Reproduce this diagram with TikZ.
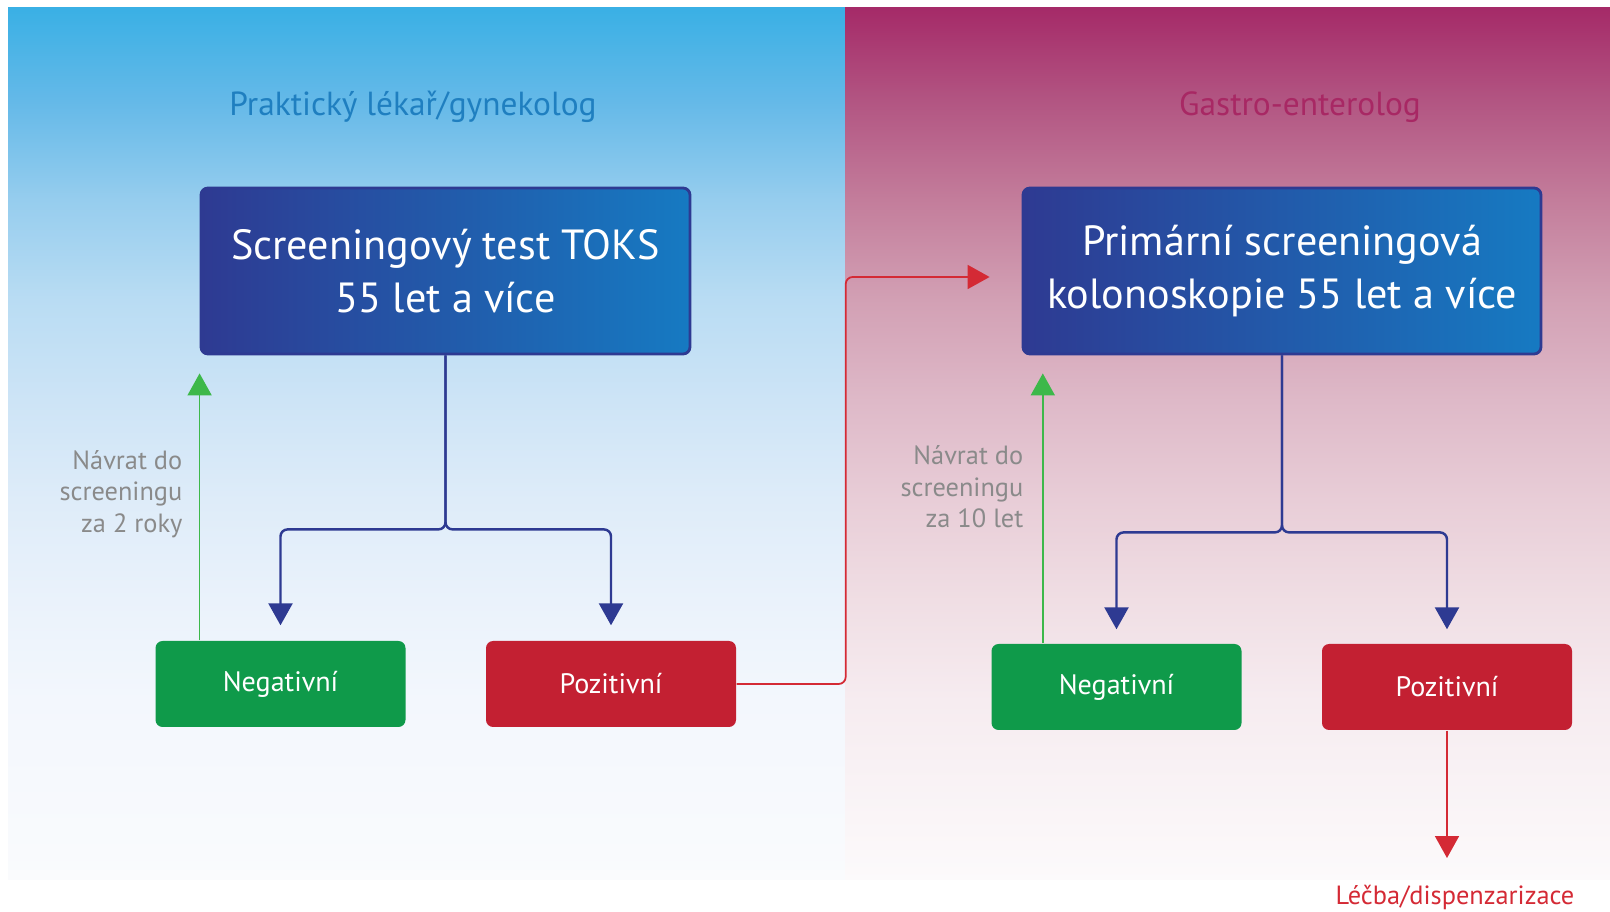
\documentclass[tikz,border=0pt]{standalone}
\usepackage{fontspec}
\setmainfont{PT Sans}
\usetikzlibrary{arrows.meta, positioning, calc}
\definecolor{navy_blue}{RGB}{46, 58, 146}
\definecolor{ocean_blue}{RGB}{22, 122, 194}
\definecolor{title_blue}{RGB}{31, 127, 192}
\definecolor{title_plum}{RGB}{168, 40, 100}
\definecolor{result_green}{RGB}{15, 154, 74}
\definecolor{result_red}{RGB}{195, 32, 50}
\definecolor{arrow_green}{RGB}{61, 184, 74}
\definecolor{arrow_red}{RGB}{212, 42, 53}
\definecolor{note_gray}{RGB}{138, 138, 138}
% panel fades, top colour at 75bp
\pgfdeclareverticalshading{gp_fade}{100bp}{
    rgb(0bp)=(0.980,0.984,0.992); rgb(25bp)=(0.980,0.984,0.992);
    rgb(35.3bp)=(0.953,0.969,0.992); rgb(41bp)=(0.918,0.949,0.984);
    rgb(46.8bp)=(0.871,0.925,0.976); rgb(52.5bp)=(0.804,0.894,0.965);
    rgb(58.3bp)=(0.725,0.863,0.953); rgb(64bp)=(0.588,0.804,0.933);
    rgb(69.7bp)=(0.392,0.725,0.910); rgb(75bp)=(0.227,0.690,0.898);
    rgb(100bp)=(0.227,0.690,0.898)}
\pgfdeclareverticalshading{ge_fade}{100bp}{
    rgb(0bp)=(0.988,0.980,0.984); rgb(25bp)=(0.988,0.980,0.984);
    rgb(35.3bp)=(0.965,0.925,0.941); rgb(41bp)=(0.941,0.871,0.894);
    rgb(46.8bp)=(0.910,0.804,0.843); rgb(52.5bp)=(0.871,0.725,0.784);
    rgb(58.3bp)=(0.824,0.627,0.706); rgb(64bp)=(0.765,0.490,0.608);
    rgb(69.7bp)=(0.698,0.333,0.510); rgb(75bp)=(0.647,0.165,0.408);
    rgb(100bp)=(0.647,0.165,0.408)}

\begin{document}
\begin{tikzpicture}[
    stage/.style={
        rectangle,
        draw=navy_blue,
        left color=navy_blue,
        right color=ocean_blue,
        line width=0.8pt,
        rounded corners=2pt,
        minimum width=#1,
        minimum height=1.66cm,
        text=white,
        font=\fontsize{12}{15}\selectfont,
        align=center
    },
    result/.style={
        rectangle,
        fill=#1,
        minimum width=2.5cm,
        minimum height=0.86cm,
        rounded corners=2pt,
        text=white,
        font=\fontsize{8}{10}\selectfont
    },
    heading/.style={
        text=#1,
        font=\fontsize{9.5}{12}\selectfont
    },
    note/.style={
        text=note_gray,
        align=right,
        anchor=east,
        inner sep=0pt,
        font=\fontsize{7.5}{9}\selectfont
    },
    flow/.style={
        -{Triangle[length=2.2mm,width=2.4mm]},
        line width=0.7pt,
        rounded corners=2pt,
        #1
    },
    back_flow/.style={
        -{Triangle[length=2.2mm,width=2.4mm]},
        line width=0.5pt,
        rounded corners=2pt,
        #1
    },
]
\useasboundingbox (0,0) rectangle (16.10,9.12);

% background panels
\shade[shading=gp_fade] (0.08,0.32) rectangle (8.45,9.04);
\shade[shading=ge_fade] (8.45,0.32) rectangle (16.10,9.04);

\node[heading=title_blue] (head_gp) at (4.13,8.05) {Praktický lékař/gynekolog};
\node[heading=title_plum] (head_ge) at (13.00,8.05) {Gastro-enterolog};

\node[stage=4.89cm] (toks) at (4.455,6.41) {Screeningový test TOKS\\55 let a více};
\node[stage=5.18cm] (kolo) at (12.82,6.41) {Primární screeningová\\kolonoskopie 55 let a více};

\node[result=result_green] (neg_a) at (2.805,2.28) {Negativní};
\node[result=result_red] (pos_a) at (6.11,2.28) {Pozitivní};
\node[result=result_green] (neg_b) at (11.165,2.25) {Negativní};
\node[result=result_red] (pos_b) at (14.47,2.25) {Pozitivní};

\node[note] (note_a) at (1.83,4.18) {Návrat do\\screeningu\\za 2 roky};
\node[note] (note_b) at (10.24,4.25) {Návrat do\\screeningu\\za 10 let};

\node[text=arrow_red, inner sep=0pt, font=\fontsize{7.5}{9}\selectfont] (lecba) at (14.55,0.15) {Léčba/dispenzarizace};

\coordinate (ret_b) at ([xshift=5.2mm]neg_b.north west);

% result arrows
\draw[flow=navy_blue, shorten >=1.5mm] (toks.south) -- ++(0,-1.74) -| (neg_a.north);
\draw[flow=navy_blue, shorten >=1.5mm] (toks.south) -- ++(0,-1.74) -| (pos_a.north);
\draw[flow=navy_blue, shorten >=1.4mm] (kolo.south) -- ++(0,-1.77) -| (neg_b.north);
\draw[flow=navy_blue, shorten >=1.4mm] (kolo.south) -- ++(0,-1.77) -| (pos_b.north);

% return to screening
\draw[back_flow=arrow_green, shorten >=1.8mm] (neg_a.north -| toks.west) -- (toks.south west);
\draw[back_flow=arrow_green, shorten >=1.8mm] (ret_b) -- (ret_b |- kolo.south);

% positive results
\draw[back_flow=arrow_red, shorten >=3.2mm] (pos_a.east) -- ++(1.09,0) |- ([yshift=-0.6mm]kolo.west);
\draw[back_flow=arrow_red, shorten >=2.6mm] (pos_b.south) -- (pos_b.south |- lecba.north);

\end{tikzpicture}
\end{document}
